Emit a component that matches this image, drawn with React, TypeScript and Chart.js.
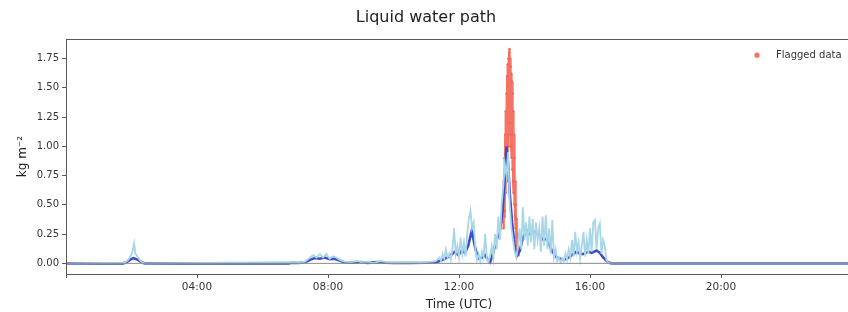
import React, { useEffect, useRef } from "react";
import { Chart, registerables } from "chart.js";

Chart.register(...registerables);

// ---- Data (hours UTC, kg m^-2) ----
const xTickHours = [0, 4, 8, 12, 16, 20, 24];
const yTickValues = [0, 0.25, 0.5, 0.75, 1.0, 1.25, 1.5, 1.75];
const legendLabel = "Flagged data";

const rawTimes = [
  0, 1.8, 1.9, 1.97, 2.03, 2.08, 2.12, 2.18, 2.25, 2.32, 2.4,
  6.9, 7.1, 7.3, 7.45, 7.55, 7.65, 7.75, 7.85, 7.95, 8.05, 8.15, 8.25, 8.35, 8.5, 8.7, 8.9, 9.0, 9.2, 9.4, 9.6, 9.8, 10.0, 10.6, 10.8, 11.0, 11.2,
  11.3, 11.4, 11.45, 11.5, 11.55, 11.6, 11.65, 11.7, 11.75, 11.8, 11.85, 11.9, 11.95, 12.0, 12.05, 12.1, 12.15, 12.2, 12.25, 12.3, 12.35, 12.4, 12.45, 12.5,
  12.55, 12.6, 12.65, 12.7, 12.75, 12.8, 12.85, 12.9, 12.95, 13.0, 13.05, 13.1, 13.15, 13.2, 13.25, 13.3, 13.35, 13.4, 13.45, 13.5,
  13.55, 13.6, 13.65, 13.7, 13.75, 13.8, 13.85, 13.9, 13.95, 14.0, 14.05, 14.1, 14.15, 14.2, 14.25, 14.3, 14.35, 14.4, 14.45, 14.5,
  14.55, 14.6, 14.65, 14.7, 14.75, 14.8, 14.85, 14.9, 14.95, 15.0, 15.05, 15.1, 15.15, 15.2, 15.25, 15.3, 15.35, 15.4, 15.45, 15.5,
  15.55, 15.6, 15.65, 15.7, 15.75, 15.8, 15.85, 15.9, 15.95, 16.0, 16.05, 16.1, 16.15, 16.2, 16.25, 16.3, 16.35, 16.4, 16.45, 16.5,
  16.55, 16.6, 24,
];
const rawValues = [
  0, 0.005, 0.03, 0.06, 0.1, 0.17, 0.08, 0.06, 0.03, 0.01, 0,
  0.01, 0.005, 0.015, 0.05, 0.07, 0.05, 0.08, 0.05, 0.08, 0.04, 0.06, 0.05, 0.03, 0.015, 0.01, 0.02, 0.01, 0.015, 0.005, 0.02, 0.01, 0.005, 0.01, 0.003, 0.01, 0.015,
  0.02, 0.05, 0.02, 0.08, 0.04, 0.12, 0.05, 0.08, 0.03, 0.12, 0.3, 0.08, 0.15, 0.05, 0.22, 0.08, 0.18, 0.06, 0.25, 0.38, 0.45, 0.3, 0.35, 0.12,
  0.03, 0.08, 0.02, 0.1, 0.05, 0.25, 0.04, 0.01, 0.06, 0.15, 0.05, 0.25, 0.12, 0.4, 0.2, 0.5, 0.65, 0.85, 0.75, 0.95,
  0.5, 0.3, 0.2, 0.1, 0.05, 0.15, 0.3, 0.12, 0.48, 0.2, 0.35, 0.15, 0.4, 0.18, 0.38, 0.12, 0.35, 0.2, 0.3, 0.1,
  0.4, 0.15, 0.41, 0.12, 0.3, 0.08, 0.37, 0.05, 0.12, 0.02, 0.05, 0.01, 0.04, 0.02, 0.08, 0.03, 0.12, 0.05, 0.2, 0.06,
  0.27, 0.1, 0.18, 0.04, 0.15, 0.27, 0.06, 0.2, 0.08, 0.3, 0.1, 0.35, 0.37, 0.12, 0.3, 0.34, 0.08, 0.2, 0.15, 0.03,
  0.01, 0, 0,
];

const smoothTimes = [
  0, 1.75, 1.85, 1.95, 2.06, 2.2, 2.3, 2.4,
  6.8, 6.9, 7.1, 7.3, 7.45, 7.6, 7.75, 7.9, 8.05, 8.2, 8.35, 8.5, 8.8, 9.0, 9.2, 9.5, 9.7, 10.0, 10.5, 11.0,
  11.3, 11.5, 11.7, 11.88, 11.98, 12.08, 12.18, 12.28, 12.39, 12.48, 12.58, 12.7, 12.8, 12.88, 12.95,
  13.05, 13.15, 13.25, 13.33, 13.4, 13.45, 13.5, 13.55, 13.62, 13.7, 13.78, 13.86, 13.95, 14.07, 14.17, 14.26, 14.37,
  14.47, 14.58, 14.68, 14.76, 14.83, 14.98, 15.18, 15.3, 15.44, 15.59, 15.7, 15.8, 15.95, 16.05, 16.2, 16.3, 16.4, 16.55, 16.65, 24,
];
const smoothValues = [
  0, 0, 0.01, 0.03, 0.045, 0.03, 0.01, 0,
  0, 0.005, 0.003, 0.01, 0.03, 0.045, 0.04, 0.05, 0.035, 0.04, 0.025, 0.01, 0.005, 0.012, 0.004, 0.01, 0.005, 0.003, 0.003, 0.005,
  0.01, 0.03, 0.06, 0.1, 0.07, 0.11, 0.09, 0.15, 0.28, 0.15, 0.04, 0.05, 0.07, 0.03, 0.01,
  0.1, 0.2, 0.28, 0.45, 0.75, 1.0, 0.85, 0.6, 0.35, 0.15, 0.07, 0.11, 0.22, 0.28, 0.25, 0.27, 0.26,
  0.23, 0.2, 0.21, 0.16, 0.11, 0.05, 0.03, 0.04, 0.07, 0.1, 0.08, 0.08, 0.1, 0.09, 0.11, 0.09, 0.05, 0.01, 0, 0,
];

const flaggedTimes = [
  13.34, 13.35, 13.36, 13.37, 13.38, 13.39, 13.4, 13.41, 13.42, 13.43, 13.44, 13.45, 13.46, 13.47, 13.48, 13.49,
  13.5, 13.51, 13.52, 13.53, 13.54, 13.55, 13.56, 13.57, 13.58, 13.59, 13.6, 13.61, 13.62, 13.63, 13.64, 13.65,
  13.66, 13.67, 13.68, 13.69, 13.7, 13.71, 13.72, 13.73, 13.74, 13.75, 13.76, 13.77, 13.78, 13.79, 13.8, 13.81, 13.82,
];
const flaggedValues = [
  0.35, 0.55, 0.3, 0.7, 0.4, 0.9, 0.45, 1.1, 0.6, 1.3, 0.7, 1.45, 0.8, 1.6, 0.9, 1.7,
  1.0, 1.75, 1.1, 1.8, 1.83, 1.2, 1.75, 1.1, 1.68, 1.0, 1.62, 0.9, 1.55, 0.8, 1.45, 0.7,
  1.3, 0.6, 1.1, 0.5, 0.9, 0.4, 0.7, 0.3, 0.5, 0.22, 0.38, 0.15, 0.25, 0.1, 0.16, 0.07, 0.1,
];

const zeroTimes = [0, 24];
const zeroValues = [0, 0];

const FLAG_COLOR = "rgba(242,104,88,0.92)";
const FONT = "'DejaVu Sans', sans-serif";

const pts = (t: number[], v: number[]) => t.map((x, i) => ({ x, y: v[i] }));

const spinePlugin = {
  id: "spines",
  afterDraw(chart: any) {
    const { ctx, chartArea: a } = chart;
    ctx.save();
    ctx.strokeStyle = "#5a5a5a";
    ctx.lineWidth = 1;
    ctx.strokeRect(Math.round(a.left) + 0.5, Math.round(a.top) + 0.5, Math.round(a.right - a.left), Math.round(a.bottom - a.top));
    // legend (top right, inside axes)
    const ly = a.top + 16;
    const lx = a.right - 95;
    ctx.fillStyle = FLAG_COLOR;
    ctx.beginPath();
    ctx.arc(lx, ly, 2.6, 0, Math.PI * 2);
    ctx.fill();
    ctx.fillStyle = "#333";
    ctx.font = "10px " + FONT;
    ctx.textBaseline = "middle";
    ctx.textAlign = "left";
    ctx.fillText(legendLabel, lx + 19, ly);
    ctx.restore();
  },
};

export default function App() {
  const ref = useRef<HTMLCanvasElement | null>(null);
  useEffect(() => {
    document.body.style.margin = "0";
    document.body.style.overflow = "hidden";
    const chart = new Chart(ref.current!, {
      type: "scatter",
      data: {
        datasets: [
          {
            label: "zero",
            data: pts(zeroTimes, zeroValues),
            showLine: true,
            borderColor: "#8a8a8a",
            borderWidth: 1,
            pointRadius: 0,
          },
          {
            label: "raw",
            data: pts(rawTimes, rawValues),
            showLine: true,
            borderColor: "#a6d6e8",
            borderWidth: 1.8,
            pointRadius: 0,
          },
          {
            label: "smoothed",
            data: pts(smoothTimes, smoothValues),
            showLine: true,
            borderColor: "#3e4bc6",
            borderWidth: 2.6,
            pointRadius: 0,
          },
          {
            label: legendLabel,
            data: pts(flaggedTimes, flaggedValues),
            showLine: true,
            borderColor: FLAG_COLOR,
            backgroundColor: FLAG_COLOR,
            borderWidth: 2.2,
            pointRadius: 1.3,
            pointBorderWidth: 0,
            pointStyle: "circle",
          },
        ],
      },
      options: {
        responsive: false,
        animation: false,
        layout: { padding: { left: 0, right: 8, top: 0, bottom: 0 } },
        plugins: {
          title: {
            display: true,
            text: "Liquid water path",
            color: "#222",
            font: { family: FONT, size: 16, weight: "normal" },
            padding: { top: 8, bottom: 12 },
          },
          legend: { display: false },
          tooltip: { enabled: false },
        },
        scales: {
          x: {
            type: "linear",
            min: 0,
            max: 24,
            afterBuildTicks: (s: any) => {
              s.ticks = xTickHours.map((v) => ({ value: v }));
            },
            afterFit: (s: any) => {
              s.height = 38;
            },
            ticks: {
              autoSkip: false,
              maxRotation: 0,
              color: "#333",
              font: { family: FONT, size: 10.5 },
              padding: 3,
              callback: (v: any) => {
                const h = Number(v);
                if (h <= 0 || h >= 24) return "";
                return String(h).padStart(2, "0") + ":00";
              },
            },
            grid: { display: true, drawOnChartArea: false, drawTicks: true, tickLength: 4, color: "#5a5a5a" },
            border: { display: false },
            title: {
              display: true,
              text: "Time (UTC)",
              color: "#222",
              font: { family: FONT, size: 12 },
              padding: { top: 0, bottom: 0 },
            },
          },
          y: {
            min: -0.091,
            max: 1.915,
            afterBuildTicks: (s: any) => {
              s.ticks = yTickValues.map((v) => ({ value: v }));
            },
            afterFit: (s: any) => {
              s.width = 66;
            },
            ticks: {
              color: "#333",
              font: { family: FONT, size: 10 },
              padding: 3,
              callback: (v: any) => Number(v).toFixed(2),
            },
            grid: { display: true, drawOnChartArea: false, drawTicks: true, tickLength: 4, color: "#5a5a5a" },
            border: { display: false },
            title: {
              display: true,
              text: "kg m\u207B\u00B2",
              color: "#222",
              font: { family: FONT, size: 12 },
              padding: { top: 16, bottom: 0 },
            },
          },
        },
      } as any,
      plugins: [spinePlugin],
    });
    return () => chart.destroy();
  }, []);
  return (
    <div style={{ position: "fixed", left: 0, top: 0, width: 860, height: 312 }}>
      <canvas ref={ref} width={860} height={312} />
    </div>
  );
}
